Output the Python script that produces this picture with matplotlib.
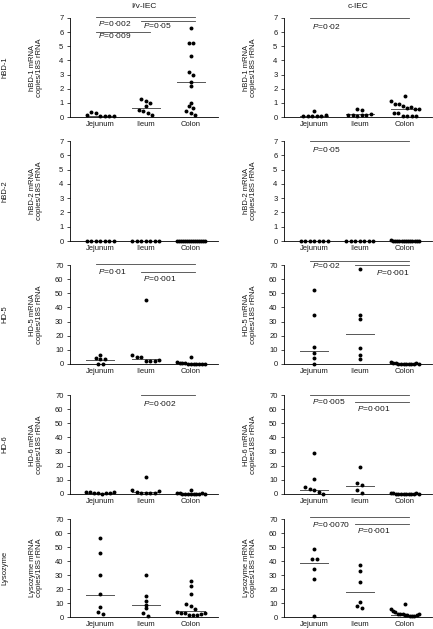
import numpy as np
import matplotlib
matplotlib.use("Agg")
import matplotlib.pyplot as plt

plt.rcParams['font.family'] = ['Liberation Sans', 'DejaVu Sans']
plt.rcParams['mathtext.fontset'] = 'custom'
plt.rcParams['mathtext.rm'] = 'Liberation Sans'
plt.rcParams['mathtext.it'] = 'Liberation Sans:italic'

sites = ['Jejunum', 'Ileum', 'Colon']
columns = ['I/v-IEC', 'c-IEC']
rows = ['hBD-1', 'hBD-2', 'HD-5', 'HD-6', 'Lysozyme']
ymax = [7, 7, 70, 70, 70]

# values per panel: (row, col) -> [jejunum, ileum, colon]
hbd1_iv = [[0.17, 0.38, 0.26, 0.05, 0.04, 0.05, 0.06],
           [1.3, 1.15, 1.0, 0.75, 0.5, 0.45, 0.3, 0.15],
           [6.3, 5.25, 5.2, 4.3, 3.2, 3.0, 2.5, 2.2, 1.0, 0.75, 0.65, 0.4, 0.3, 0.15]]
hbd1_c = [[0.4, 0.08, 0.06, 0.05, 0.07, 0.1, 0.12],
          [0.6, 0.5, 0.15, 0.12, 0.1, 0.13, 0.17, 0.2],
          [1.45, 1.15, 0.95, 0.9, 0.8, 0.65, 0.7, 0.55, 0.6, 0.3, 0.25, 0.05, 0.05, 0.05, 0.05]]
hbd2_iv = [[0.0] * 7,
           [0.0] * 7,
           [0.0, 0.02, 0.0, 0.03, 0.0, 0.01, 0.0, 0.02, 0.0, 0.0, 0.03, 0.0, 0.01, 0.0, 0.02]]
hbd2_c = [[0.0] * 7,
          [0.0] * 7,
          [0.1, 0.02, 0.0, 0.01, 0.0, 0.02, 0.0, 0.01, 0.0, 0.0, 0.02, 0.0, 0.01, 0.0]]
hd5_iv = [[6.5, 4.2, 3.6, 3.4, 0.3, 0.2],
          [45.3, 6.6, 4.7, 4.9, 2.3, 2.2, 2.3, 3.0],
          [4.9, 1.4, 1.0, 0.5, 0.4, 0.3, 0.3, 0.2, 0.2, 0.2, 0.3, 0.2]]
hd5_c = [[52, 35, 12, 7.5, 4.5, 0.3],
         [67, 35, 31.5, 11, 6.5, 3.8],
         [1.2, 0.8, 0.5, 0.3, 0.3, 0.2, 0.2, 0.3, 0.1, 0.2, 0.5, 0.2]]
hd6_iv = [[1.5, 1.2, 0.6, 0.4, 0.3, 0.5, 1.0, 1.3],
          [11.8, 2.8, 1.5, 0.7, 0.5, 0.4, 0.6, 2.3],
          [2.8, 0.6, 0.4, 0.3, 0.2, 0.2, 0.2, 0.3, 0.2, 0.3, 0.5, 0.2]]
hd6_c = [[28.8, 10.8, 4.7, 3.2, 3.0, 1.5, 0.3],
         [18.9, 7.6, 6.3, 2.5, 1.0],
         [0.8, 0.5, 0.3, 0.2, 0.2, 0.3, 0.2, 0.1, 0.2, 0.3, 0.5, 0.2]]
lyso_iv = [[56.2, 46, 29.9, 16.1, 6.9, 3.6, 2.1],
           [30.1, 15, 11.2, 8.8, 6.4, 2.8, 0.9],
           [25.6, 22, 16.4, 9.5, 7.6, 5.7, 3.6, 3.2, 2.8, 1.7, 1.5, 1.2, 2.5, 3.0]]
lyso_c = [[48.6, 41.3, 41.3, 34.6, 27.5, 0.5],
          [37, 32.7, 25.2, 10.9, 7.6, 6.2],
          [9.5, 5.9, 4.0, 3.5, 2.4, 2.0, 1.8, 1.5, 1.2, 1.0, 0.8, 0.6, 1.4, 2.2]]

data = [[hbd1_iv, hbd1_c], [hbd2_iv, hbd2_c], [hd5_iv, hd5_c],
        [hd6_iv, hd6_c], [lyso_iv, lyso_c]]

# medians (horizontal bars)
medians = [[[0.07, 0.64, 2.5], [0.07, 0.18, 0.55]],
           [[0.0, 0.0, 0.0], [0.0, 0.0, 0.0]],
           [[3.0, 3.8, 0.3], [9.5, 21.1, 0.3]],
           [[0.9, 1.4, 0.3], [2.9, 5.4, 0.2]],
           [[16.0, 8.8, 4.3], [38.4, 18.0, 1.7]]]

# significance bars: (from site, to site, line y, label, label y, align)
sig = [[[(1, 3, 7.05, '0·002', 6.6, 'left'), (2, 3, 6.8, '0·05', 6.45, 'left'),
         (1, 2, 6.03, '0·009', 5.75, 'left')],
        [(1, 3, 7.0, '0·02', 6.4, 'left')]],
       [[], [(1, 3, 7.0, '0·05', 6.4, 'left')]],
       [[(1, 3, 70.5, '0·01', 65.3, 'left'), (2, 3, 65.3, '0·001', 60.6, 'left')],
        [(1, 3, 72.5, '0·02', 69.7, 'left'), (2, 3, 70.0, '0·001', 64.4, 'right')]],
       [[(2, 3, 70.0, '0·002', 64.1, 'left')],
        [(1, 3, 70.0, '0·005', 65.3, 'left'), (2, 3, 64.8, '0·001', 60.6, 'left')]],
       [[],
        [(1, 3, 71.7, '0·0070', 66.4, 'left'), (2, 3, 66.4, '0·001', 61.7, 'left')]]]


def swarm_offsets(vals, top, gap=0.03, step=0.1, maxw=0.62):
    # spread points that sit at nearly the same height
    vals = np.asarray(vals, dtype=float)
    order = np.argsort(vals, kind='stable')
    groups, cur = [], [order[0]]
    for a, b in zip(order[:-1], order[1:]):
        if (vals[b] - vals[a]) / top < gap:
            cur.append(b)
        else:
            groups.append(cur)
            cur = [b]
    groups.append(cur)
    off = np.zeros(len(vals))
    for g in groups:
        g = sorted(g)
        k = len(g)
        if k > 1:
            s = min(step, maxw / (k - 1))
            off[g] = (np.arange(k) - (k - 1) / 2) * s
    return off


W, H = 433, 629
fig = plt.figure(figsize=(W / 100, H / 100), dpi=100)

col_left = [70, 284]
ax_w = 148
row_px = [(18, 117), (141, 241), (265, 364), (395, 494), (519, 617)]
ylab_x = [36, 250]
txt = '#1a1a1a'

for r in range(5):
    top, bot = row_px[r]
    for c in range(2):
        ax = fig.add_axes([col_left[c] / W, 1 - bot / H, ax_w / W, (bot - top) / H])
        ax.set_xlim(0.33, 3.6)
        ax.set_ylim(0, ymax[r])
        for i, vals in enumerate(data[r][c]):
            x = i + 1 + swarm_offsets(vals, ymax[r])
            ax.scatter(x, vals, s=8, color='black', linewidths=0, zorder=3, clip_on=False)
            m = medians[r][c][i]
            ax.plot([i + 1 - 0.31, i + 1 + 0.31], [m, m], color='#555555', lw=0.7, zorder=2)
        for a, b, ly, lab, ty, ha in sig[r][c]:
            x0, x1 = a - 0.1, b + 0.1
            ax.plot([x0, x1], [ly, ly], color='#444444', lw=0.6, clip_on=False)
            tx = x0 + 0.05 if ha == 'left' else x1
            ax.text(tx, ty, '$P$=' + lab, ha=ha, va='center', fontsize=6, color=txt)
        ax.set_xticks([1, 2, 3])
        ax.set_xticklabels(sites)
        ax.set_yticks(np.arange(0, ymax[r] + 0.1, ymax[r] / 7))
        ax.tick_params(axis='x', length=0, pad=3, labelsize=5.5, labelcolor=txt)
        ax.tick_params(axis='y', length=2.2, width=0.5, pad=2.5, labelsize=5.5, labelcolor=txt)
        for sp in ['top', 'right']:
            ax.spines[sp].set_visible(False)
        for sp in ['left', 'bottom']:
            ax.spines[sp].set_linewidth(0.6)
        cy = 1 - (top + bot) / 2 / H
        fig.text(ylab_x[c] / W, cy, rows[r] + ' mRNA\ncopies/18S rRNA', rotation=90,
                 ha='center', va='center', fontsize=5.5, color=txt, linespacing=1.1)
        if r == 0:
            fig.text((col_left[c] + ax_w / 2) / W, 1 - 6 / H, columns[c],
                     ha='center', va='center', fontsize=6, color=txt)
    fig.text(5 / W, 1 - (top + bot) / 2 / H, rows[r], rotation=90,
             ha='center', va='center', fontsize=5.5, color=txt)

fig.savefig('out.png', dpi=100)
